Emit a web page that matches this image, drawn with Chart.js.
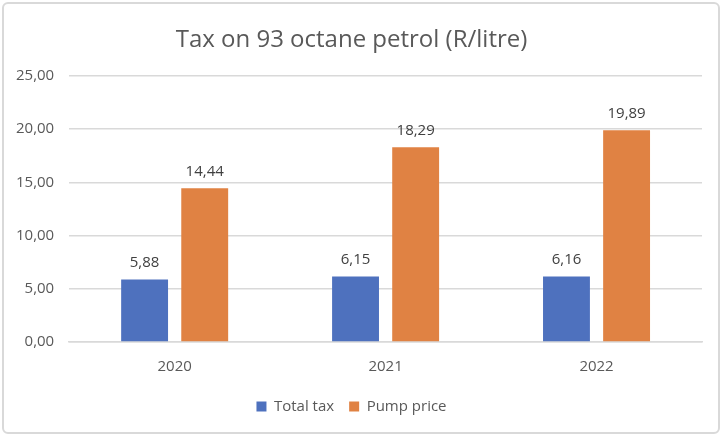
<!DOCTYPE html>
<html>
<head>
<meta charset="utf-8">
<script src="https://cdn.jsdelivr.net/npm/chart.js@4"></script>
<style>
  html, body { margin: 0; padding: 0; background: #fff; }
  .frame {
    position: absolute; left: 2px; top: 2px; width: 714px; height: 428px;
    border: 2px solid #d9d9d9; border-radius: 6px; background: #fff;
  }
  #wrap { position: absolute; left: 0; top: 0; width: 722px; height: 436px; }
</style>
</head>
<body>
<div class="frame"></div>
<div id="wrap"><canvas id="taxChart"></canvas></div>
<script>
// Dados do gráfico
const years = ["2020", "2021", "2022"];
const totalTax = [5.88, 6.15, 6.16];
const pumpPrice = [14.44, 18.29, 19.89];
const yTicks = [0, 5, 10, 15, 20, 25];

const fmt = v => v.toFixed(2).replace(".", ",");
const textColor = "#595959";
const fontFamily = "'Open Sans', 'Liberation Sans', sans-serif";

// rótulos em cima das barras
const valueLabels = {
  id: "valueLabels",
  afterDatasetsDraw(chart) {
    const ctx = chart.ctx;
    ctx.save();
    ctx.fillStyle = "#404040";
    ctx.font = "15px " + fontFamily;
    ctx.textAlign = "center";
    ctx.textBaseline = "bottom";
    chart.data.datasets.forEach((ds, i) => {
      chart.getDatasetMeta(i).data.forEach((bar, j) => {
        ctx.fillText(fmt(ds.data[j]), bar.x, bar.y - 9);
      });
    });
    ctx.restore();
  }
};

const config = {
  type: "bar",
  data: {
    labels: years,
    datasets: [
      {
        label: "Total tax",
        data: totalTax,
        backgroundColor: "#4e71be",
        categoryPercentage: 0.57,
        barPercentage: 0.78,
      },
      {
        label: "Pump price",
        data: pumpPrice,
        backgroundColor: "#e08243",
        categoryPercentage: 0.57,
        barPercentage: 0.78,
      },
    ],
  },
  options: {
    responsive: true,
    maintainAspectRatio: false,
    animation: false,
    layout: { padding: { left: 1, right: 20, top: 12, bottom: 12 } },
    plugins: {
      legend: {
        position: "bottom",
        labels: {
          boxWidth: 10,
          boxHeight: 10,
          padding: 15,
          color: textColor,
          font: { size: 15, family: fontFamily },
        },
      },
      title: {
        display: true,
        text: "Tax on 93 octane petrol (R/litre)",
        color: textColor,
        font: { size: 24, weight: "normal", family: fontFamily },
        padding: { top: 14, bottom: 21 },
      },
      tooltip: { enabled: false },
    },
    scales: {
      x: {
        grid: { display: false },
        border: { color: "#d9d9d9", width: 1.5 },
        ticks: { color: textColor, font: { size: 15, family: fontFamily }, padding: 8 },
      },
      y: {
        min: 0,
        max: 25,
        afterBuildTicks: axis => { axis.ticks = yTicks.map(v => ({ value: v })); },
        grid: { color: "#d9d9d9", lineWidth: 1.5, drawTicks: false },
        border: { display: false },
        ticks: {
          color: textColor,
          font: { size: 15, family: fontFamily },
          padding: 15,
          callback: v => fmt(v),
        },
      },
    },
  },
  plugins: [valueLabels],
};

const taxChart = new Chart(document.getElementById("taxChart"), config);
</script>
</body>
</html>
